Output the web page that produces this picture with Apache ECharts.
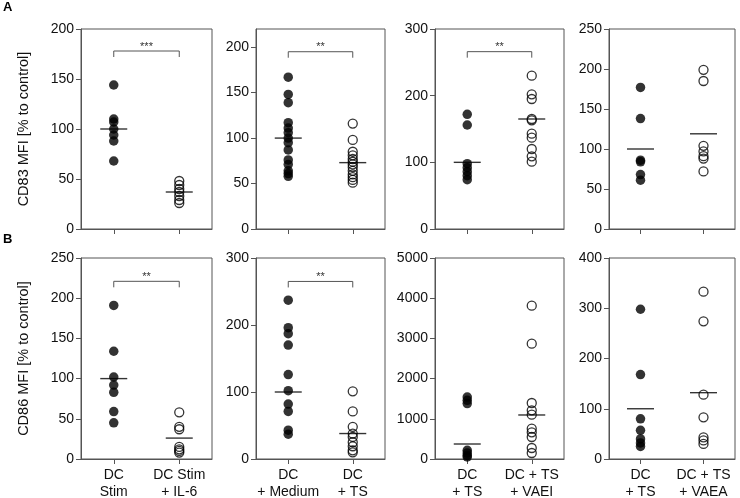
<!DOCTYPE html>
<html>
<head>
<meta charset="utf-8">
<script src="https://cdn.jsdelivr.net/npm/echarts@6/dist/echarts.min.js"></script>
<style>html,body{margin:0;padding:0;background:#fff}#c{width:740px;height:498px}</style>
</head>
<body>
<div id="c"></div>
<script>
// ---------- DATA ----------
const catsA1 = ['DC\nStim', 'DC Stim\n+ IL-6'];
const catsA2 = ['DC\n+ Medium', 'DC\n+ TS'];
const catsA3 = ['DC\n+ TS', 'DC + TS\n+ VAEI'];
const catsA4 = ['DC\n+ TS', 'DC + TS\n+ VAEA'];

// Row A: CD83
const a1Filled = [144, 110, 107, 100, 94, 88, 68];
const a1Open = [48, 44, 40, 37, 33, 29, 26];
const a1Means = [100, 37];
const a2Filled = [167, 148, 139, 117, 111, 106, 100, 95, 87, 76, 71, 64, 61, 58];
const a2Open = [116, 98, 85, 81, 77, 74, 71, 68, 64, 60, 57, 54, 51];
const a2Means = [100, 73];
const a3Filled = [172, 156, 98, 92, 86, 80, 74];
const a3Open = [230, 202, 195, 165, 163, 143, 137, 120, 109, 101];
const a3Means = [100, 165];
const a4Filled = [177, 138, 86, 84, 68, 61];
const a4Open = [199, 185, 104, 97, 91, 88, 72];
const a4Means = [100, 119];

// Row B: CD86
const b1Filled = [191, 134, 102, 92, 83, 59, 45];
const b1Open = [58, 40, 37, 15, 12, 10, 8];
const b1Means = [100, 26];
const b2Filled = [237, 196, 187, 170, 126, 102, 82, 71, 43, 37];
const b2Open = [101, 71, 48, 38, 33, 25, 19, 13, 10];
const b2Means = [100, 38];
const b3Filled = [1540, 1460, 1380, 216, 150, 90, 50];
const b3Open = [3814, 2869, 1393, 1211, 1103, 755, 663, 547, 274, 149];
const b3Means = [373, 1095];
const b4Filled = [298, 168, 80, 57, 40, 32, 25];
const b4Open = [333, 274, 128, 83, 43, 37, 30];
const b4Means = [100, 132];

// Axis ranges and tick labels
const yMaxA = [200, 220, 300, 250];
const yMaxB = [250, 300, 5000, 400];
const ticksA1 = [0, 50, 100, 150, 200];
const ticksA2 = [0, 50, 100, 150, 200];
const ticksA3 = [0, 100, 200, 300];
const ticksA4 = [0, 50, 100, 150, 200, 250];
const ticksB1 = [0, 50, 100, 150, 200, 250];
const ticksB2 = [0, 100, 200, 300];
const ticksB3 = [0, 1000, 2000, 3000, 4000, 5000];
const ticksB4 = [0, 100, 200, 300, 400];

// Significance brackets (value level, label); null = none
const sigA = [[178, '***'], [195, '**'], [266, '**'], null];
const sigB = [[221, '**'], [265, '**'], null, null];

const yNameA = 'CD83 MFI [% to control]';
const yNameB = 'CD86 MFI [% to control]';

// ---------- LAYOUT ----------
const FONT = 'Liberation Sans, Arial, Helvetica, sans-serif';
const lefts = [81, 256, 435, 609];
const widths = [131, 129, 129, 126];
const rows = [{top: 29, height: 200}, {top: 258, height: 201}];

const panels = [
  {cats: catsA1, f: a1Filled, o: a1Open, m: a1Means, max: yMaxA[0], ticks: ticksA1, sig: sigA[0], row: 0, col: 0, name: yNameA},
  {cats: catsA2, f: a2Filled, o: a2Open, m: a2Means, max: yMaxA[1], ticks: ticksA2, sig: sigA[1], row: 0, col: 1},
  {cats: catsA3, f: a3Filled, o: a3Open, m: a3Means, max: yMaxA[2], ticks: ticksA3, sig: sigA[2], row: 0, col: 2},
  {cats: catsA4, f: a4Filled, o: a4Open, m: a4Means, max: yMaxA[3], ticks: ticksA4, sig: sigA[3], row: 0, col: 3},
  {cats: catsA1, f: b1Filled, o: b1Open, m: b1Means, max: yMaxB[0], ticks: ticksB1, sig: sigB[0], row: 1, col: 0, name: yNameB},
  {cats: catsA2, f: b2Filled, o: b2Open, m: b2Means, max: yMaxB[1], ticks: ticksB2, sig: sigB[1], row: 1, col: 1},
  {cats: catsA3, f: b3Filled, o: b3Open, m: b3Means, max: yMaxB[2], ticks: ticksB3, sig: sigB[2], row: 1, col: 2},
  {cats: catsA4, f: b4Filled, o: b4Open, m: b4Means, max: yMaxB[3], ticks: ticksB4, sig: sigB[3], row: 1, col: 3}
];

const AX = '#555';
const grid = [], xAxis = [], yAxis = [], series = [];

panels.forEach((p, i) => {
  grid.push({left: lefts[p.col], width: widths[p.col], top: rows[p.row].top, height: rows[p.row].height,
    containLabel: false, outerBoundsMode: 'none',
    show: true, borderColor: AX, borderWidth: 1, backgroundColor: 'transparent'});
  xAxis.push({type: 'category', gridIndex: i, data: p.cats, boundaryGap: true,
    axisLine: {show: true, lineStyle: {color: AX, width: 1}},
    axisTick: {show: true, alignWithLabel: true, length: 5, lineStyle: {color: AX}},
    axisLabel: {show: p.row === 1, color: '#111', fontSize: 14, fontFamily: FONT, lineHeight: 17, margin: 8, interval: 0},
    splitLine: {show: false}});
  yAxis.push({type: 'value', gridIndex: i, min: 0, max: p.max,
    name: p.name || '', nameLocation: 'middle', nameGap: 50, nameRotate: 90,
    nameTextStyle: {color: '#111', fontSize: 14.5, fontFamily: FONT},
    axisLine: {show: true, lineStyle: {color: AX, width: 1}},
    axisTick: {show: true, length: 5, lineStyle: {color: AX}, customValues: p.ticks},
    axisLabel: {color: '#111', fontSize: 14, fontFamily: FONT, margin: 7, customValues: p.ticks,
      formatter: v => String(v)},
    splitLine: {show: false}});
  series.push({type: 'scatter', xAxisIndex: i, yAxisIndex: i, symbol: 'circle', symbolSize: 9.5,
    itemStyle: {color: '#000'}, data: p.f.map(v => [0, v]), z: 2});
  series.push({type: 'scatter', xAxisIndex: i, yAxisIndex: i, symbol: 'circle', symbolSize: 9,
    itemStyle: {color: 'rgba(255,255,255,0)', borderColor: '#000', borderWidth: 1.3}, data: p.o.map(v => [1, v]), z: 2});
  series.push({type: 'scatter', xAxisIndex: i, yAxisIndex: i, symbol: 'rect', symbolSize: [27, 1.4],
    itemStyle: {color: '#000'}, data: p.m.map((v, k) => [k, v]), z: 3});
  if (p.sig) {
    const stars = p.sig[1];
    series.push({type: 'custom', xAxisIndex: i, yAxisIndex: i, z: 4, data: [[0, p.sig[0]]],
      renderItem: (params, api) => {
        const v = api.value(1);
        const p0 = api.coord([0, v]);
        const p1 = api.coord([1, v]);
        return {type: 'group', children: [
          {type: 'polyline', shape: {points: [[p0[0], p0[1] + 6], [p0[0], p0[1]], [p1[0], p1[1]], [p1[0], p1[1] + 6]]},
            style: {stroke: AX, lineWidth: 1, fill: null}},
          {type: 'text', x: (p0[0] + p1[0]) / 2, y: p0[1] + 1,
            style: {text: stars, fontSize: 11, fontFamily: FONT, fill: '#333', align: 'center', verticalAlign: 'bottom'}}
        ]};
      }});
  }
});

const chart = echarts.init(document.getElementById('c'), null, {renderer: 'canvas'});
chart.setOption({
  animation: false,
  backgroundColor: '#fff',
  grid, xAxis, yAxis, series,
  graphic: [
    {type: 'text', left: 3, top: 1, style: {text: 'A', fontSize: 13, fontWeight: 'bold', fontFamily: FONT, fill: '#000'}},
    {type: 'text', left: 3, top: 233, style: {text: 'B', fontSize: 13, fontWeight: 'bold', fontFamily: FONT, fill: '#000'}}
  ]
});
</script>
</body>
</html>
